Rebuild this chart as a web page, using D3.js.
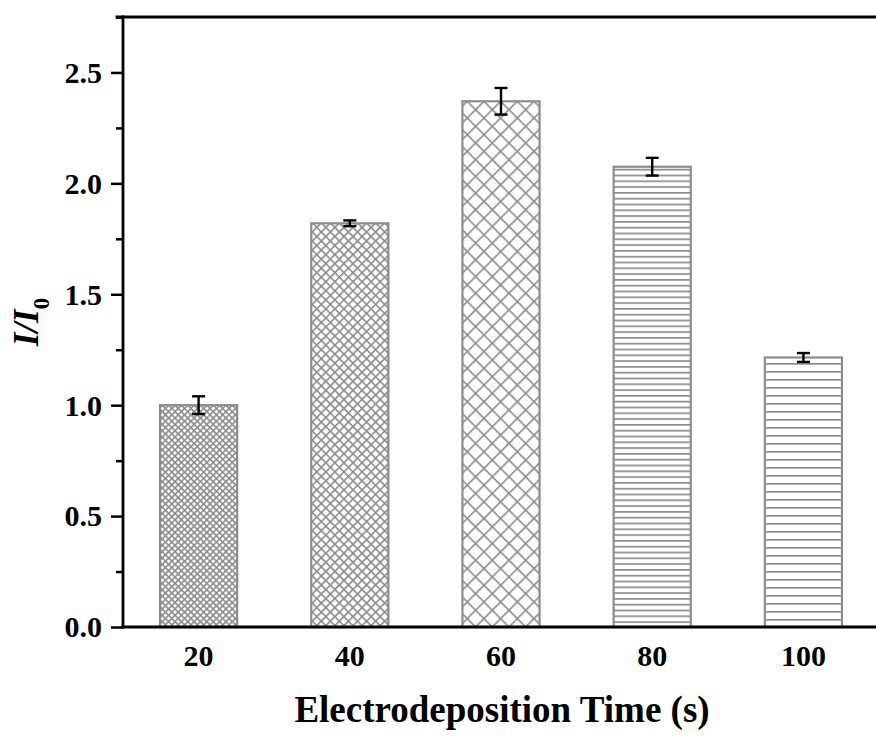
<!DOCTYPE html>
<html>
<head>
<meta charset="utf-8">
<script src="https://cdn.jsdelivr.net/npm/d3@7"></script>
<style>
  html, body { margin: 0; padding: 0; background: #fff; }
  svg { display: block; }
  text { font-family: "Liberation Serif", "Times New Roman", serif; font-weight: bold; fill: #000; }
</style>
</head>
<body>
<svg id="chart" width="876" height="736"></svg>
<script>
// ---- data ----
const categories = ["20", "40", "60", "80", "100"];
const values = [1.00, 1.82, 2.37, 2.075, 1.215];
const errors = [0.04, 0.013, 0.06, 0.04, 0.02];
const patterns = ["hatchFine", "hatchMid", "hatchWide", "hlineFine", "hlineWide"];
const yTicks = [0, 0.5, 1.0, 1.5, 2.0, 2.5];
const yMinorTicks = [0.25, 0.75, 1.25, 1.75, 2.25, 2.75];
const xTitle = "Electrodeposition Time (s)";

// ---- layout ----
const svg = d3.select("#chart");
const mLeft = 123, mRight = 879, mTop = 17, mBottom = 627;
const grey = "#8c8c8c";

const x = d3.scaleBand().domain(categories).range([mLeft, mRight])
  .paddingInner(0.49).paddingOuter(0.245);
const y = d3.scaleLinear().domain([0, 2.75]).range([mBottom, mTop]);

// ---- patterns ----
const defs = svg.append("defs");
function crossHatch(id, size) {
  const p = defs.append("pattern").attr("id", id)
    .attr("patternUnits", "userSpaceOnUse")
    .attr("width", size).attr("height", size)
    .attr("patternTransform", "rotate(45)");
  p.append("rect").attr("width", size).attr("height", size).attr("fill", "#fff");
  p.append("line").attr("x1", 0).attr("y1", 0).attr("x2", 0).attr("y2", size)
    .attr("stroke", grey).attr("stroke-width", 3.2);
  p.append("line").attr("x1", 0).attr("y1", 0).attr("x2", size).attr("y2", 0)
    .attr("stroke", grey).attr("stroke-width", 3.2);
}
function hLines(id, size) {
  const p = defs.append("pattern").attr("id", id)
    .attr("patternUnits", "userSpaceOnUse")
    .attr("width", 10).attr("height", size).attr("y", mBottom);
  p.append("rect").attr("width", 10).attr("height", size).attr("fill", "#fff");
  p.append("line").attr("x1", 0).attr("y1", 0.8).attr("x2", 10).attr("y2", 0.8)
    .attr("stroke", grey).attr("stroke-width", 1.8);
}
crossHatch("hatchFine", 4.5);
crossHatch("hatchMid", 6.4);
crossHatch("hatchWide", 11.8);
hLines("hlineFine", 5.8);
hLines("hlineWide", 8);

// ---- bars ----
const bars = categories.map((c, i) => ({ c, v: values[i], e: errors[i], p: patterns[i] }));
svg.append("g").selectAll("rect").data(bars).join("rect")
  .attr("x", d => x(d.c))
  .attr("y", d => y(d.v))
  .attr("width", x.bandwidth())
  .attr("height", d => y(0) - y(d.v))
  .attr("fill", d => `url(#${d.p})`)
  .attr("stroke", grey).attr("stroke-width", 2.2);

// ---- error bars ----
const eg = svg.append("g").attr("stroke", "#000").attr("stroke-width", 2.4);
bars.forEach(d => {
  const cx = x(d.c) + x.bandwidth() / 2;
  eg.append("line").attr("x1", cx).attr("x2", cx).attr("y1", y(d.v + d.e)).attr("y2", y(d.v - d.e));
  eg.append("line").attr("x1", cx - 6.5).attr("x2", cx + 6.5).attr("y1", y(d.v + d.e)).attr("y2", y(d.v + d.e));
  eg.append("line").attr("x1", cx - 6.5).attr("x2", cx + 6.5).attr("y1", y(d.v - d.e)).attr("y2", y(d.v - d.e));
});

// ---- axes ----
const yAxis = d3.axisLeft(y).tickValues(yTicks).tickFormat(d3.format(".1f")).tickSize(12).tickPadding(9);
const gy = svg.append("g").attr("transform", `translate(${mLeft},0)`).call(yAxis);
gy.select(".domain").remove();
gy.selectAll(".tick line").attr("stroke", "#000").attr("stroke-width", 2.5);
gy.selectAll(".tick text").style("font-size", "30px").style("font-family", "Liberation Serif, serif").style("font-weight", "bold").attr("dy", "0.33em");

const yMinor = d3.axisLeft(y).tickValues(yMinorTicks).tickFormat("").tickSize(7);
const gym = svg.append("g").attr("transform", `translate(${mLeft},0)`).call(yMinor);
gym.select(".domain").remove();
gym.selectAll(".tick line").attr("stroke", "#000").attr("stroke-width", 2.5);

const xAxis = d3.axisBottom(x).tickSize(0).tickPadding(18);
const gx = svg.append("g").attr("transform", `translate(0,${mBottom})`).call(xAxis);
gx.select(".domain").remove();
gx.selectAll(".tick text").style("font-size", "30px").style("font-family", "Liberation Serif, serif").style("font-weight", "bold");

// frame lines
const frame = svg.append("g").attr("stroke", "#000").attr("stroke-width", 2.8).attr("stroke-linecap", "square");
frame.append("line").attr("x1", mLeft).attr("x2", mLeft).attr("y1", mTop).attr("y2", mBottom);
frame.append("line").attr("x1", mLeft).attr("x2", 876).attr("y1", mBottom).attr("y2", mBottom);
frame.append("line").attr("x1", mLeft - 6).attr("x2", 876).attr("y1", mTop).attr("y2", mTop);

// ---- titles ----
svg.append("text").attr("x", 502).attr("y", 722).attr("text-anchor", "middle")
  .style("font-size", "37px").text(xTitle);

const yt = svg.append("text").attr("transform", "translate(38,322) rotate(-90)")
  .attr("text-anchor", "middle").style("font-size", "35px").style("font-style", "italic");
yt.append("tspan").text("I/I");
yt.append("tspan").attr("dy", 11).style("font-size", "23px").style("font-style", "normal").text("0");
</script>
</body>
</html>
